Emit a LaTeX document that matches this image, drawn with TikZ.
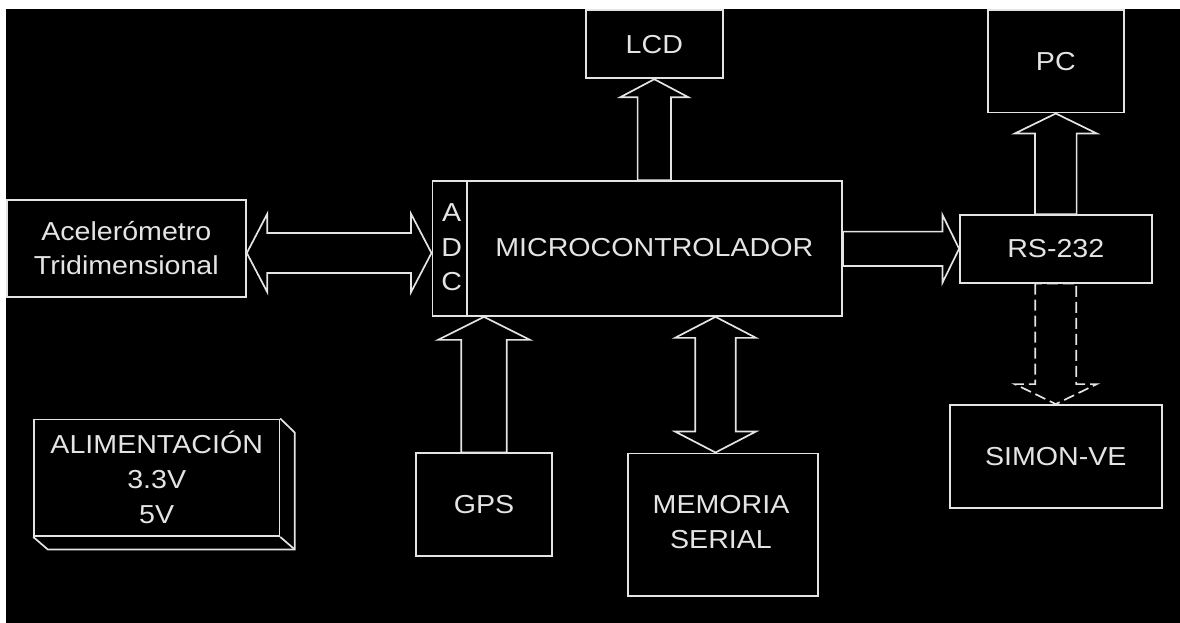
\documentclass[tikz,border=0pt]{standalone}
\usepackage{fontspec}
\setmainfont{Liberation Sans}[FakeStretch=1.1]
\usetikzlibrary{calc}
\definecolor{fg}{RGB}{228,228,228}
\tikzset{
  box/.style={draw=fg, line width=1.7pt, inner sep=0pt, text=fg, align=center,
              font=\fontsize{26}{34.5}\selectfont},
  blk/.style={draw=fg, line width=1.7pt, line join=miter},
  blkdash/.style={blk, dash pattern=on 11pt off 5pt}
}
% up arrow: [style] #2 tip, #3 base, #4 shaft half, #5 head half, #6 head length
\newcommand\blkup[6][blk]{\draw[#1] ($(#3)+(-#4,0)$) -- ($(#2)+(-#4,#6)$) -- ($(#2)+(-#5,#6)$) -- (#2) -- ($(#2)+(#5,#6)$) -- ($(#2)+(#4,#6)$) -- ($(#3)+(#4,0)$) -- cycle;}
% down arrow
\newcommand\blkdown[6][blk]{\draw[#1] ($(#3)+(-#4,0)$) -- ($(#2)+(-#4,-#6)$) -- ($(#2)+(-#5,-#6)$) -- (#2) -- ($(#2)+(#5,-#6)$) -- ($(#2)+(#4,-#6)$) -- ($(#3)+(#4,0)$) -- cycle;}
% right arrow
\newcommand\blkright[5]{\draw[blk] ($(#2)+(0,-#3)$) -- ($(#1)+(-#5,-#3)$) -- ($(#1)+(-#5,-#4)$) -- (#1) -- ($(#1)+(-#5,#4)$) -- ($(#1)+(-#5,#3)$) -- ($(#2)+(0,#3)$) -- cycle;}
% horizontal double arrow: #1 left tip, #2 right tip
\newcommand\blkhdbl[5]{\draw[blk] (#1) -- ($(#1)+(#5,-#4)$) -- ($(#1)+(#5,-#3)$) -- ($(#2)+(-#5,-#3)$) -- ($(#2)+(-#5,-#4)$) -- (#2) -- ($(#2)+(-#5,#4)$) -- ($(#2)+(-#5,#3)$) -- ($(#1)+(#5,#3)$) -- ($(#1)+(#5,#4)$) -- cycle;}
% vertical double arrow: #1 top tip, #2 bottom tip
\newcommand\blkvdbl[5]{\draw[blk] (#1) -- ($(#1)+(#4,#5)$) -- ($(#1)+(#3,#5)$) -- ($(#2)+(#3,-#5)$) -- ($(#2)+(#4,-#5)$) -- (#2) -- ($(#2)+(-#4,-#5)$) -- ($(#2)+(-#3,-#5)$) -- ($(#1)+(-#3,#5)$) -- ($(#1)+(-#4,#5)$) -- cycle;}

\begin{document}
\begin{tikzpicture}[x=1pt,y=-1pt]
\useasboundingbox (0,0) rectangle (1180,623);
\fill[white] (0,0) rectangle (1180,623);
\fill[black] (6,9) rectangle (1180,623);

% boxes
\node[box, minimum width=136.7pt, minimum height=68.3pt] (lcd) at (654.3,44.2) {LCD};
\node[box, minimum width=136.3pt, minimum height=102.7pt] (pc) at (1055.8,61.3) {PC};
\node[box, minimum width=409.7pt, minimum height=135pt] (mcu) at (637.2,248.5) {};
\node[box, draw=none] (mcutxt) at (654.3,247.5) {MICROCONTROLADOR};
\node[box, draw=none] (adc) at (451.7,247.5) {A\\D\\C};
\coordinate (adcx) at (466.7,0);
\draw[blk] (adcx |- mcu.north) -- (adcx |- mcu.south);
\node[box, minimum width=239.3pt, minimum height=96.7pt, font=\fontsize{26}{34}\selectfont] (acc) at (126.3,248.3) {Acelerómetro\\Tridimensional};
\node[box, minimum width=191.7pt, minimum height=67.7pt] (rs) at (1055.8,248.8) {RS-232};
\node[box, minimum width=211.7pt, minimum height=102.7pt] (simon) at (1055.8,456.3) {SIMON-VE};
\node[box, minimum width=136.6pt, minimum height=102.4pt] (gps) at (484,504.5) {GPS};
\node[box, minimum width=190.6pt, minimum height=142.7pt] (mem) at (723,524.7) {};
\node[box, draw=none] (memtxt) at (721,522) {MEMORIA\\SERIAL};
\node[box, minimum width=245.3pt, minimum height=116.7pt, font=\fontsize{26}{35}\selectfont] (alim) at (156.7,477.7) {ALIMENTACIÓN\\3.3V\\5V};
\draw[blk] (alim.north east) -- ++(14.5,14) coordinate (alimb)
  -- ($(alim.south east)+(14.5,12.5)$) coordinate (alimc)
  -- ($(alim.south west)+(14.5,12.5)$) -- (alim.south west);
\draw[blk] (alim.south east) -- (alimc);

% connector coordinates
\coordinate (lcdb) at (lcd.south |- mcu.north);
\coordinate (pcb) at (pc.south |- rs.north);
\coordinate (gpst) at (gps.north |- mcu.south);
\coordinate (memb) at ($(mem.north)+(-7.5,0)$);
\coordinate (memt) at (memb |- mcu.south);
\coordinate (rsb) at (mcu.east |- rs.west);
\coordinate (simb) at (simon.north |- rs.south);
\coordinate (accl) at ($(acc.east)+(0,4.7)$);
\coordinate (accr) at (mcu.west |- accl);

% block arrows
\blkup{lcd.south}{lcdb}{16.7}{34}{18}
\blkup{pc.south}{pcb}{20.8}{41}{20}
\blkup{gpst}{gps.north}{22.8}{46}{23}
\blkvdbl{memt}{memb}{20.3}{40.5}{21}
\blkright{rs.west}{rsb}{17.2}{34}{16.7}
\blkhdbl{accl}{accr}{20}{39.2}{20.5}
\blkdown[blkdash]{simon.north}{simb}{20.5}{41}{20}
\end{tikzpicture}
\end{document}
